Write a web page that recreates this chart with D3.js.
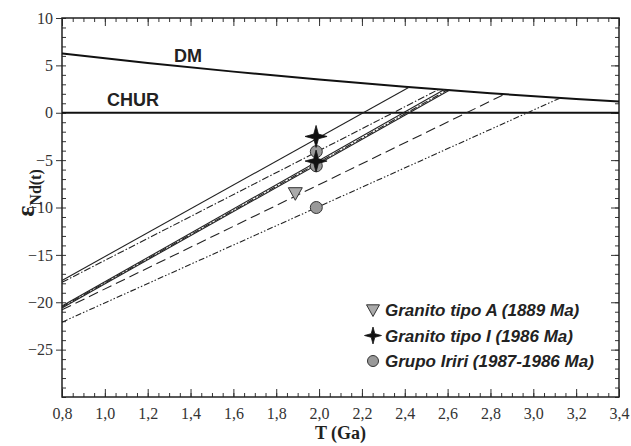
<!DOCTYPE html>
<html>
	<head>
		<meta charset="utf-8">
		<script src="https://cdnjs.cloudflare.com/ajax/libs/d3/7.8.5/d3.min.js" charset="utf-8"></script>
		<style>
			body { margin: 0; background: #fff; }
		</style>
	</head>
	<body>
		<div id="chart"></div>
		<script>
			///////////////////////////////////////////////////////////////////////////
			//////////////////////////////// Data /////////////////////////////////////
			///////////////////////////////////////////////////////////////////////////

			//Axis ticks
			var xTicks = [0.8, 1.0, 1.2, 1.4, 1.6, 1.8, 2.0, 2.2, 2.4, 2.6, 2.8, 3.0, 3.2, 3.4];
			var yTicks = [10, 5, 0, -5, -10, -15, -20, -25];

			//Depleted mantle curve
			var dmT = [0.8, 1.2, 1.6, 2.0, 2.4, 2.8, 3.2, 3.4];
			var dmE = [6.26, 5.26, 4.34, 3.50, 2.74, 2.06, 1.46, 1.19];

			//Nd evolution lines: value at T = 0.8 and where they meet DM
			var evoStartE = [-17.7, -17.9, -20.4, -20.6, -20.5, -20.8, -22.1];
			var evoEndT   = [2.42, 2.56, 2.585, 2.61, 2.60, 2.87, 3.125];
			var evoEndE   = [2.70, 2.48, 2.45, 2.40, 2.42, 2.00, 1.55];
			var evoType   = ["solid", "dashdot", "solid", "solid", "dashdot", "dashed", "dashdotdot"];

			//Samples
			var sampleT     = [1.987, 1.987, 1.987, 1.889, 1.986, 1.986];
			var sampleE     = [-4.1, -5.6, -10.0, -8.5, -2.5, -5.1];
			var sampleGroup = ["iriri", "iriri", "iriri", "A", "I", "I"];

			var legendGroups = ["A", "I", "iriri"];
			var legendLabels = ["Granito tipo A (1889 Ma)", "Granito tipo I (1986 Ma)", "Grupo Iriri (1987-1986 Ma)"];

			///////////////////////////////////////////////////////////////////////////
			///////////////////////////////// Setup ///////////////////////////////////
			///////////////////////////////////////////////////////////////////////////

			var width = 631, height = 446;
			var pLeft = 62, pRight = 619, pTop = 18, pBottom = 397;
			var serif = "'Liberation Serif', 'Times New Roman', Times, serif";
			var sans = "'Liberation Sans', Arial, Helvetica, sans-serif";

			var svg = d3.select("#chart").append("svg")
				.attr("width", width)
				.attr("height", height);

			var x = d3.scaleLinear().domain([0.8, 3.4]).range([pLeft, pRight]);
			var y = d3.scaleLinear().domain([-30, 10]).range([pBottom, pTop]);

			var dashes = {
				solid: null,
				dashed: "10,5",
				dashdot: "7,2,1.5,2",
				dashdotdot: "6,2,1.5,2,1.5,2"
			};

			var comma = function(d) { return d3.format(".1f")(d).replace(".", ","); };

			///////////////////////////////////////////////////////////////////////////
			///////////////////////////////// Axes ////////////////////////////////////
			///////////////////////////////////////////////////////////////////////////

			var xMinor = d3.range(0.8, 3.4001, 0.05);
			var yMinor = d3.range(-30, 10.001, 1);

			var axes = svg.append("g");

			function noDomain(g) { g.select(".domain").remove(); }

			//bottom: ticks inward, labels below
			axes.append("g").attr("transform", "translate(0," + pBottom + ")")
				.call(d3.axisBottom(x).tickValues(xMinor).tickSize(-4).tickFormat(""))
				.call(noDomain);
			axes.append("g").attr("transform", "translate(0," + pBottom + ")")
				.call(d3.axisBottom(x).tickValues(xTicks).tickSize(-8).tickPadding(11).tickFormat(comma))
				.call(noDomain);

			//top
			axes.append("g").attr("transform", "translate(0," + pTop + ")")
				.call(d3.axisTop(x).tickValues(xMinor).tickSize(-4).tickFormat(""))
				.call(noDomain);
			axes.append("g").attr("transform", "translate(0," + pTop + ")")
				.call(d3.axisTop(x).tickValues(xTicks).tickSize(-8).tickFormat(""))
				.call(noDomain);

			//left: minors inward, majors outward
			axes.append("g").attr("transform", "translate(" + pLeft + ",0)")
				.call(d3.axisLeft(y).tickValues(yMinor).tickSize(-4).tickFormat(""))
				.call(noDomain);
			axes.append("g").attr("transform", "translate(" + pLeft + ",0)")
				.call(d3.axisLeft(y).tickValues(yTicks).tickSize(6).tickPadding(3).tickFormat(d3.format("d")))
				.call(noDomain);

			//right
			axes.append("g").attr("transform", "translate(" + pRight + ",0)")
				.call(d3.axisRight(y).tickValues(yMinor).tickSize(-4).tickFormat(""))
				.call(noDomain);
			axes.append("g").attr("transform", "translate(" + pRight + ",0)")
				.call(d3.axisRight(y).tickValues(yTicks).tickSize(-8).tickFormat(""))
				.call(noDomain);

			axes.selectAll(".tick line").attr("stroke", "#333").attr("stroke-width", 1);
			axes.selectAll(".tick text")
				.attr("fill", "#333")
				.style("font-family", serif)
				.style("font-size", "16px");

			//frame
			svg.append("rect")
				.attr("x", pLeft).attr("y", pTop)
				.attr("width", pRight - pLeft).attr("height", pBottom - pTop)
				.attr("fill", "none").attr("stroke", "#222").attr("stroke-width", 1.5);

			//axis titles
			svg.append("text")
				.attr("x", (pLeft + pRight) / 2).attr("y", 439)
				.attr("text-anchor", "middle")
				.style("font-family", serif)
				.style("font-size", "18px").style("font-weight", "bold").style("fill", "#222")
				.text("T (Ga)");

			var yTitle = svg.append("text")
				.attr("transform", "translate(34,193) rotate(-90)")
				.attr("text-anchor", "middle")
				.style("font-family", serif)
				.style("font-weight", "bold").style("fill", "#222");
			yTitle.append("tspan").style("font-size", "26px").text("ε");
			yTitle.append("tspan").attr("dy", 7).style("font-size", "16px").text("Nd(t)");

			///////////////////////////////////////////////////////////////////////////
			///////////////////////////////// Lines ///////////////////////////////////
			///////////////////////////////////////////////////////////////////////////

			var plot = svg.append("g");

			//CHUR
			plot.append("line")
				.attr("x1", x(0.8)).attr("x2", x(3.4))
				.attr("y1", y(0)).attr("y2", y(0))
				.attr("stroke", "#111").attr("stroke-width", 2);

			//DM
			var dmLine = d3.line()
				.x(function(d, i) { return x(dmT[i]); })
				.y(function(d) { return y(d); })
				.curve(d3.curveMonotoneX);
			plot.append("path")
				.attr("d", dmLine(dmE))
				.attr("fill", "none").attr("stroke", "#111").attr("stroke-width", 2);

			//evolution lines
			plot.selectAll(".evo")
				.data(evoStartE)
				.enter().append("line")
				.attr("class", "evo")
				.attr("x1", x(0.8))
				.attr("y1", function(d) { return y(d); })
				.attr("x2", function(d, i) { return x(evoEndT[i]); })
				.attr("y2", function(d, i) { return y(evoEndE[i]); })
				.attr("stroke", "#222")
				.attr("stroke-width", 1.1)
				.attr("stroke-dasharray", function(d, i) { return dashes[evoType[i]]; });

			plot.selectAll(".curveLabel")
				.data([["DM", 174, 62], ["CHUR", 107, 106]])
				.enter().append("text")
				.attr("class", "curveLabel")
				.attr("x", function(d) { return d[1]; })
				.attr("y", function(d) { return d[2]; })
				.style("font-family", sans).style("font-size", "18px")
				.style("font-weight", "bold").style("fill", "#222")
				.text(function(d) { return d[0]; });

			///////////////////////////////////////////////////////////////////////////
			//////////////////////////////// Markers //////////////////////////////////
			///////////////////////////////////////////////////////////////////////////

			function starPath(R) {
				var r = R * 0.3, p = [];
				for (var k = 0; k < 8; k++) {
					var a = -Math.PI / 2 + k * Math.PI / 4;
					var rr = k % 2 === 0 ? R : r;
					p.push([rr * Math.cos(a), rr * Math.sin(a)]);
				}
				return "M" + p.map(function(q) { return q[0].toFixed(2) + "," + q[1].toFixed(2); }).join("L") + "Z";
			}

			function drawMarker(g, group, big) {
				if (group === "iriri") {
					g.append("circle").attr("r", big ? 6 : 5.5)
						.attr("fill", "#999").attr("stroke", "#333").attr("stroke-width", 1);
				} else if (group === "A") {
					var s = big ? 7 : 6.5;
					g.append("path").attr("d", "M" + (-s) + "," + (-s * 0.8) + "L" + s + "," + (-s * 0.8) + "L0," + (s * 1.0) + "Z")
						.attr("fill", "#aaa").attr("stroke", "#333").attr("stroke-width", 1);
				} else {
					g.append("path").attr("d", starPath(big ? 11 : 8.5))
						.attr("fill", "#111").attr("stroke", "#111").attr("stroke-width", 0.8);
				}
			}

			var order = [0, 1, 2, 3, 4, 5];
			plot.selectAll(".sample")
				.data(order)
				.enter().append("g")
				.attr("class", "sample")
				.attr("transform", function(i) { return "translate(" + x(sampleT[i]) + "," + y(sampleE[i]) + ")"; })
				.each(function(i) { drawMarker(d3.select(this), sampleGroup[i], true); });

			///////////////////////////////////////////////////////////////////////////
			//////////////////////////////// Legend ///////////////////////////////////
			///////////////////////////////////////////////////////////////////////////

			var legend = svg.append("g").attr("transform", "translate(373,310)");
			legendGroups.forEach(function(gname, i) {
				var row = legend.append("g").attr("transform", "translate(0," + (i * 25.5) + ")");
				drawMarker(row.append("g"), gname, false);
				row.append("text")
					.attr("x", 12).attr("y", 6)
					.style("font-family", sans).style("font-size", "17px")
					.style("font-weight", "bold").style("font-style", "italic").style("fill", "#222")
					.text(legendLabels[i]);
			});
		</script>
	</body>
</html>
